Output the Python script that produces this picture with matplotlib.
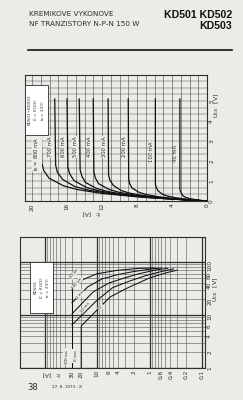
import numpy as np
import matplotlib
matplotlib.use('Agg')
import matplotlib.pyplot as plt
from matplotlib.patches import Rectangle

paper = '#ebebe8'
ink = '#2e2e2e'
gridc = '#555555'
dark = '#111111'

# --- horni graf: Ic = f(Uce), parametr Ib ---
ib_labels = ['40 mA', '100 mA', '200 mA', '300 mA', '400 mA',
             '500 mA', '600 mA', '700 mA', r'I$_\mathrm{B}$ = 800 mA']
uce_40 = [0, 0.03, 0.06, 0.12, 0.18, 0.24, 0.36, 0.48, 0.6, 5.1]
ic_40 = [0, 0.7, 1.2, 2.0, 2.4, 2.7, 2.9, 3.04, 3.1, 3.1]
uce_100 = [0, 0.04, 0.09, 0.17, 0.26, 0.34, 0.51, 0.68, 0.85, 5.1]
ic_100 = [0, 1.3, 2.3, 3.7, 4.6, 5.1, 5.6, 5.8, 5.9, 5.9]
uce_200 = [0, 0.06, 0.11, 0.22, 0.33, 0.44, 0.66, 0.88, 1.1, 5.1]
ic_200 = [0, 2.0, 3.5, 5.7, 7.0, 7.8, 8.6, 8.84, 8.95, 9.0]
uce_300 = [0, 0.07, 0.13, 0.26, 0.39, 0.52, 0.78, 1.04, 1.3, 5.1]
ic_300 = [0, 2.5, 4.4, 7.1, 8.8, 9.8, 10.7, 11.1, 11.25, 11.3]
uce_400 = [0, 0.07, 0.15, 0.29, 0.44, 0.58, 0.87, 1.16, 1.45, 5.1]
ic_400 = [0, 2.9, 5.1, 8.2, 10.1, 11.2, 12.4, 12.77, 12.93, 13.0]
uce_500 = [0, 0.08, 0.16, 0.31, 0.47, 0.62, 0.93, 1.24, 1.55, 5.1]
ic_500 = [0, 3.2, 5.7, 9.2, 11.3, 12.6, 13.9, 14.3, 14.5, 14.6]
uce_600 = [0, 0.09, 0.17, 0.34, 0.51, 0.68, 1.02, 1.36, 1.7, 5.1]
ic_600 = [0, 3.5, 6.3, 10.1, 12.4, 13.8, 15.2, 15.7, 15.9, 16.0]
uce_700 = [0, 0.09, 0.18, 0.36, 0.54, 0.72, 1.08, 1.44, 1.8, 5.1]
ic_700 = [0, 3.8, 6.8, 11.0, 13.5, 15.1, 16.5, 17.1, 17.3, 17.4]
uce_800 = [0, 0.1, 0.19, 0.38, 0.57, 0.76, 1.14, 1.52, 1.9, 5.1]
ic_800 = [0, 4.2, 7.5, 12.0, 14.8, 16.4, 18.05, 18.66, 18.87, 19.0]
curves = [(uce_40, ic_40), (uce_100, ic_100), (uce_200, ic_200),
          (uce_300, ic_300), (uce_400, ic_400), (uce_500, ic_500),
          (uce_600, ic_600), (uce_700, ic_700), (uce_800, ic_800)]
label_uce = [2.4, 2.45, 2.7, 2.7, 2.7, 2.7, 2.7, 2.7, 2.35]

ic_ticks = [0, 4, 8, 12, 16, 20]
uce_ticks = [0, 1, 2, 3, 4, 5]

# --- dolni graf: SOA, Ic = f(Uce), log-log ---
soa_ic_ticks = [30, 20, 10, 6, 4, 2, 1, 0.6, 0.4, 0.2, 0.1]
soa_ic_labels = ['30', '20', '10', '6', '4', '2', '1', '0,6', '0,4', '0,2', '0,1']
soa_uce_ticks = [1, 2, 4, 6, 10, 20, 40, 60, 100]
soa_uce_labels = ['1', '2', '4', '6', '10', '20', '40', '60', '100']

soa_labels = ['DC', '10 ms', '1 ms', '100 µs', '10 µs']
dc_ic = [20, 20, 10, 5.6, 2.7, 1.0, 0.5, 0.3]
dc_uce = [1, 6.2, 12.4, 22, 32, 50, 62, 70]
ms10_ic = [30, 10, 5, 2.5, 1.2, 0.6, 0.35]
ms10_uce = [6.5, 19, 33, 43, 55, 66, 74]
ms1_ic = [30, 12, 6, 3, 1.6, 0.8, 0.45]
ms1_uce = [10.5, 27, 40, 50, 60, 70, 76]
us100_ic = [30, 15, 8, 4, 2, 1.0, 0.6]
us100_uce = [17, 34, 48, 58, 66, 73, 77]
us10_ic = [30, 20, 10, 4, 1.5, 0.8]
us10_uce = [30, 45, 60, 70, 76, 77]
soa_lines = [(dc_ic, dc_uce), (ms10_ic, ms10_uce), (ms1_ic, ms1_uce),
             (us100_ic, us100_uce), (us10_ic, us10_uce)]
soa_label_ic = [8.5, 17, 21, 24, 27]
soa_label_uce = [14, 14, 24, 40, 60]
icm_ic = [30, 30]
icm_uce = [1, 30]

fig = plt.figure(figsize=(2.43, 4.0), dpi=100)
fig.patch.set_facecolor(paper)

# hlavicka
fig.text(29/243, 1 - 14/400, 'KREMIKOVE VYKONOVE', fontsize=5.2, color=ink, va='center')
fig.text(29/243, 1 - 24/400, 'NF TRANZISTORY N-P-N 150 W', fontsize=5.2, color=ink, va='center')
fig.text(232/243, 1 - 15/400, 'KD501 KD502', fontsize=7.6, weight='bold', color=dark,
         ha='right', va='center', family=['Liberation Sans', 'DejaVu Sans'])
fig.text(232/243, 1 - 26/400, 'KD503', fontsize=7.6, weight='bold', color=dark,
         ha='right', va='center', family=['Liberation Sans', 'DejaVu Sans'])
fig.add_artist(plt.Line2D([28/243, 232/243], [1 - 50/400, 1 - 50/400], color=dark, lw=1.2))
fig.text(27/243, 1 - 388/400, '38', fontsize=6, color=ink, va='center')
fig.text(52/243, 1 - 387/400, '27. 8. 1973 - 8', fontsize=3, color=ink, va='center')

# horni graf
ax1 = fig.add_axes([25/243, 1 - 201/400, 182/243, 126/400])
ax1.set_facecolor(paper)
ax1.set_xlim(20.8, 0)
ax1.set_ylim(0, 6.3)
for x in np.arange(1, 21):
    ax1.axvline(x, color=gridc, lw=0.45, zorder=1)
for y in np.arange(1, 19) / 3:
    ax1.axhline(y, color=gridc, lw=0.35, zorder=1)
for u, i in curves:
    ax1.plot(i, u, color=dark, lw=0.9, zorder=3)
for (u, i), lab, ly in zip(curves, ib_labels, label_uce):
    ax1.text(i[-1] + 0.45, ly, lab, rotation=90, fontsize=3.8, color=ink,
             ha='center', va='center', zorder=4,
             bbox=dict(facecolor=paper, edgecolor='none', pad=0.3))
ax1.set_xticks(ic_ticks)
ax1.set_yticks(uce_ticks)
ax1.set_xticklabels([str(v) for v in ic_ticks], rotation=90)
ax1.set_yticklabels([str(v) for v in uce_ticks], rotation=90)
ax1.yaxis.tick_right()
ax1.tick_params(length=0, labelsize=4.2, colors=ink, pad=1.5)
for s in ax1.spines.values():
    s.set_color(ink)
    s.set_linewidth(0.8)
ax1.text(-1.15, 4.8, r'U$_\mathrm{CE}$  [V]', rotation=90, fontsize=4.5, color=ink,
         ha='center', va='center')
ax1.text(13.3, -0.55, r'I$_\mathrm{C}$  [A]', rotation=180, fontsize=4.5, color=ink,
         ha='center', va='center')
ax1.add_patch(Rectangle((18.2, 3.3), 2.6, 2.5, facecolor='white', edgecolor=ink,
                        lw=0.6, zorder=5))
ax1.text(20.25, 4.55, 'KD501÷KD503', rotation=90, fontsize=3.0, color=ink,
         ha='center', va='center', zorder=6)
ax1.text(19.5, 4.55, r'I$_\mathrm{C}$ = f(U$_\mathrm{CE}$)', rotation=90, fontsize=3.0,
         color=ink, ha='center', va='center', zorder=6)
ax1.text(18.75, 4.55, r't$_\mathrm{a}$ = 25°C', rotation=90, fontsize=3.0, color=ink,
         ha='center', va='center', zorder=6)

# dolni graf
ax2 = fig.add_axes([20/243, 1 - 368/400, 185/243, 131/400])
ax2.set_facecolor(paper)
ax2.set_xscale('log')
ax2.set_yscale('log')
ax2.set_xlim(293, 0.088)
ax2.set_ylim(1, 296)
for d in [0.1, 1, 10]:
    for k in range(1, 10):
        ax2.axvline(k * d, color=ink if k == 1 else gridc, lw=0.9 if k == 1 else 0.4, zorder=1)
ax2.axvline(100, color=ink, lw=0.9, zorder=1)
for d in [1, 10]:
    for k in range(1, 10):
        ax2.axhline(k * d, color=ink if k == 1 else gridc, lw=0.9 if k == 1 else 0.4, zorder=1)
ax2.axhline(100, color=ink, lw=0.9, zorder=1)
for ic, uce in soa_lines:
    ax2.plot(ic, uce, color=dark, lw=0.75, zorder=3)
ax2.plot(icm_ic, icm_uce, color=dark, lw=0.75, zorder=3)
for lab, x, y in zip(soa_labels, soa_label_ic, soa_label_uce):
    ax2.text(x, y, lab, rotation=50, fontsize=3.0, color=ink, ha='center', va='center',
             zorder=4, bbox=dict(facecolor=paper, edgecolor='none', pad=0.2))
ax2.set_xticks(soa_ic_ticks)
ax2.set_xticklabels(soa_ic_labels, rotation=90)
ax2.set_yticks(soa_uce_ticks)
ax2.set_yticklabels(soa_uce_labels, rotation=90)
ax2.minorticks_off()
ax2.yaxis.tick_right()
ax2.tick_params(length=0, labelsize=4.2, colors=ink, pad=1.5)
for s in ax2.spines.values():
    s.set_color(ink)
    s.set_linewidth(0.8)
ax2.text(0.055, 30, r'U$_\mathrm{CE}$  [V]', rotation=90, fontsize=4.5, color=ink,
         ha='center', va='center')
ax2.text(75, 0.8, r'I$_\mathrm{C}$  [A]', rotation=180, fontsize=4.5, color=ink,
         ha='center', va='center')
ax2.text(31, 1.7, r'I$_\mathrm{CM\ max}$', rotation=90, fontsize=3.2, color=ink,
         ha='right', va='center', zorder=4,
         bbox=dict(facecolor=paper, edgecolor='none', pad=0.2))
ax2.text(21, 1.7, r'I$_\mathrm{C\ max}$', rotation=90, fontsize=3.2, color=ink,
         ha='right', va='center', zorder=4,
         bbox=dict(facecolor=paper, edgecolor='none', pad=0.2))
ax2.add_patch(Rectangle((69, 10.9), 120, 89, facecolor='white', edgecolor=ink,
                        lw=0.6, zorder=5))
ax2.text(150, 33, 'KD503', rotation=90, fontsize=3.0, color=ink, ha='center', va='center', zorder=6)
ax2.text(112, 33, r'I$_\mathrm{C}$ = f(U$_\mathrm{CE}$)', rotation=90, fontsize=3.0, color=ink,
         ha='center', va='center', zorder=6)
ax2.text(84, 33, r't$_\mathrm{c}$ = 25°C', rotation=90, fontsize=3.0, color=ink,
         ha='center', va='center', zorder=6)

fig.savefig('out.png', dpi=100, facecolor=paper)
